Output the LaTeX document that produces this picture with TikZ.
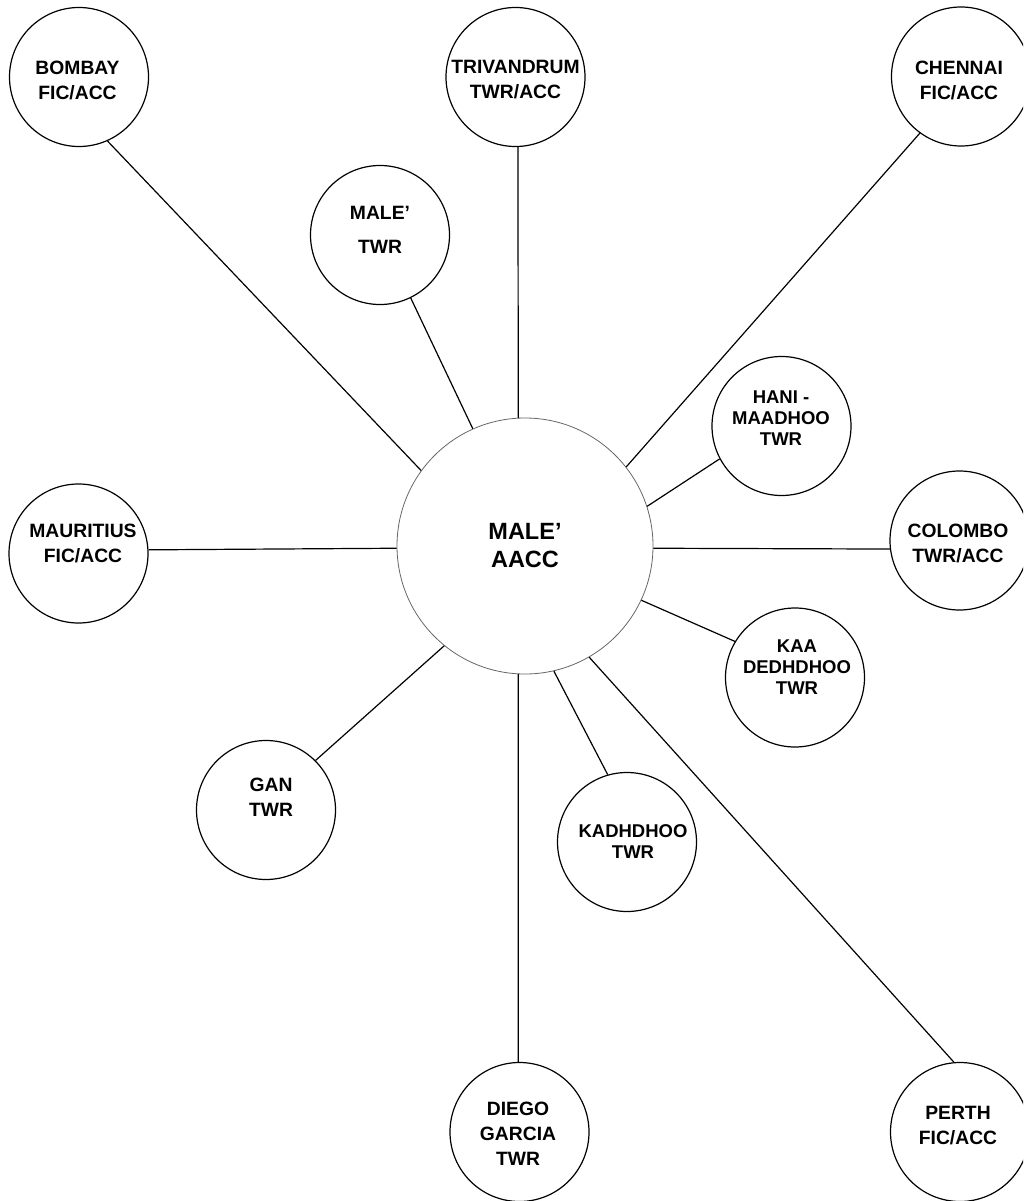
\documentclass[tikz,border=0pt]{standalone}
\usepackage{fontspec}
\setmainfont{Liberation Sans}
\begin{document}
\begin{tikzpicture}[x=1pt,y=-1pt,
  stn/.style={circle,draw,line width=1.2pt,inner sep=0pt,minimum size=139pt},
  hub/.style={circle,draw=black!60,line width=0.8pt,inner sep=0pt,minimum size=256pt},
  lbl/.style={align=center,inner sep=0pt,font=\bfseries\fontsize{19.3}{25}\selectfont},
  lbls/.style={align=center,inner sep=0pt,font=\bfseries\fontsize{18.5}{21}\selectfont},
  lblw/.style={align=center,inner sep=0pt,font=\bfseries\fontsize{19.3}{34}\selectfont},
  hublbl/.style={align=center,inner sep=0pt,font=\bfseries\fontsize{23.5}{28}\selectfont},
  link/.style={line width=1.2pt}]
\useasboundingbox (0,0) rectangle (1023,1201);
\clip (0,0) rectangle (1023,1201);

% central unit
\node[hub] (hub) at (525,546) {};
\node[hublbl] (hubtxt) at (525,546) {MALE’\\AACC};

% connected stations
\node[stn] (bom)   at (79,77)      {};
\node[stn] (triv)  at (515.5,77)   {};
\node[stn] (chen)  at (961,76.5)   {};
\node[stn] (mtwr)  at (380,235)    {};
\node[stn] (hani)  at (781.5,426)  {};
\node[stn] (maur)  at (78.5,553.5) {};
\node[stn] (col)   at (959.5,540.5){};
\node[stn] (kaa)   at (795,677.5)  {};
\node[stn] (gan)   at (266,810)    {};
\node[stn] (kad)   at (627,842)    {};
\node[stn] (diego) at (519.5,1132) {};
\node[stn] (perth) at (960,1132)   {};

% station names
\node[lbl]  (bomtxt)   at (77.5,80)  {BOMBAY\\FIC/ACC};
\node[lbl]  (trivtxt)  at (515.5,80) {TRIVANDRUM\\TWR/ACC};
\node[lbl]  (chentxt)  at (959,80)   {CHENNAI\\FIC/ACC};
\node[lblw] (mtwrtxt)  at (380,230)  {MALE’\\TWR};
\node[lbls] (hanitxt)  at (781,418)  {HANI -\\MAADHOO\\TWR};
\node[lbl]  (maurtxt)  at (83,543)   {MAURITIUS\\FIC/ACC};
\node[lbl]  (coltxt)   at (958,543)  {COLOMBO\\TWR/ACC};
\node[lbls] (kaatxt)   at (797,667)  {KAA\\DEDHDHOO\\TWR};
\node[lbl]  (gantxt)   at (271,797)  {GAN\\TWR};
\node[lbls] (kadtxt)   at (633,842)  {KADHDHOO\\TWR};
\node[lbl]  (diegotxt) at (518,1134) {DIEGO\\GARCIA\\TWR};
\node[lbl]  (perthtxt) at (958,1126) {PERTH\\FIC/ACC};

% links to the centre
\draw[link] (bom.-66)      -- (hub.144.2);
\draw[link] (triv.-88)     -- (hub.93.1);
\draw[link] (chen.-126.6)  -- (hub.38.7);
\draw[link] (mtwr.-64.5)   -- (hub.114.6);
\draw[link] (hani.-152.5)  -- (hub.18.2);
\draw[link] (maur.3.7)     -- (hub.181.6);
\draw[link] (col.-173)     -- (hub.-1.8);
\draw[link] (kaa.149.4)    -- (hub.-25.6);
\draw[link] (gan.45.6)     -- (hub.-129.4);
\draw[link] (kad.106.5)    -- (hub.-77.5);
\draw[link] (diego.91)     -- (hub.-93.1);
\draw[link] (perth.95)     -- (hub.-60.6);
\end{tikzpicture}
\end{document}
